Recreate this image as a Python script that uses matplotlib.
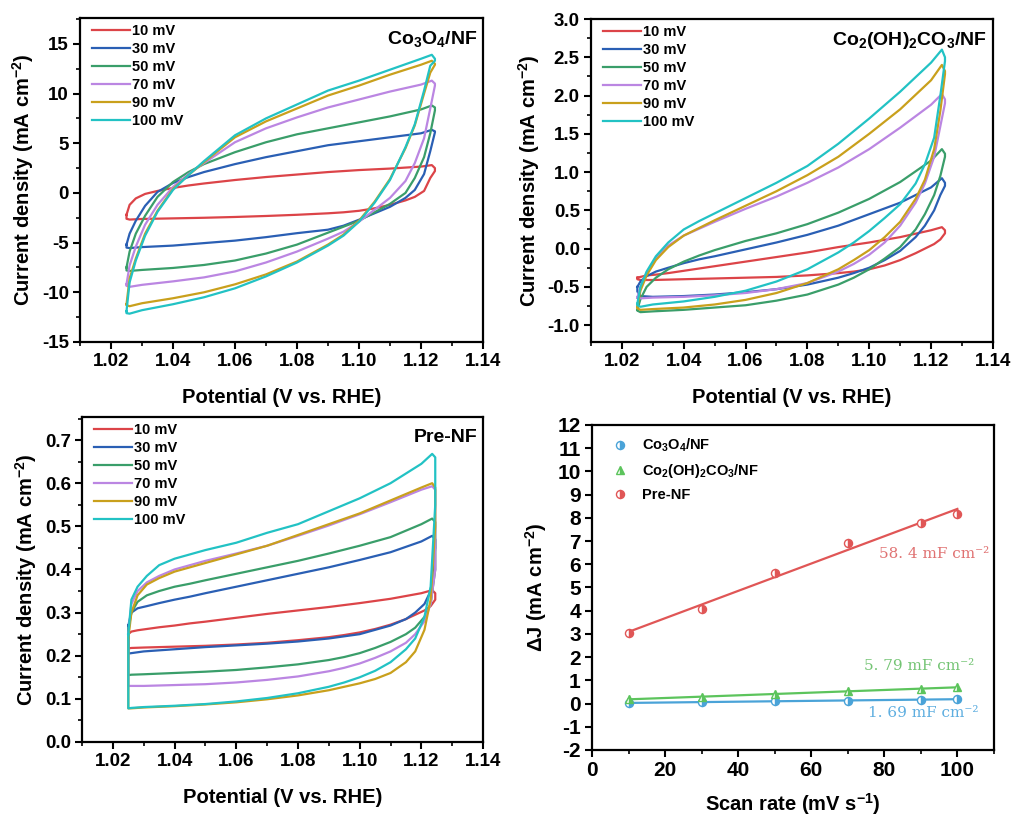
import numpy as np
import matplotlib.pyplot as plt
from matplotlib.ticker import MultipleLocator

plt.rcParams['font.family'] = ['Liberation Sans', 'DejaVu Sans']
plt.rcParams['font.weight'] = 'bold'
plt.rcParams['axes.labelweight'] = 'bold'
plt.rcParams['axes.unicode_minus'] = False
plt.rcParams['mathtext.fontset'] = 'custom'
plt.rcParams['mathtext.rm'] = 'Liberation Sans:bold'
plt.rcParams['mathtext.bf'] = 'Liberation Sans:bold'
plt.rcParams['mathtext.default'] = 'bf'

# scan rates (legend) and colours
rates = ['10 mV', '30 mV', '50 mV', '70 mV', '90 mV', '100 mV']
colors = ['#dc4448', '#2a5fb4', '#3a9e6a', '#bb86e2', '#c9a01c', '#22c2c4']

# potential grid: anodic branch (left -> right), cathodic branch (right -> left)
E_up = [1.025, 1.026, 1.028, 1.031, 1.035, 1.04, 1.045, 1.05, 1.06, 1.07,
        1.08, 1.09, 1.10, 1.11, 1.12, 1.1235, 1.1245]
E_down = [1.1245, 1.123, 1.121, 1.118, 1.115, 1.11, 1.105, 1.10, 1.095, 1.09,
          1.08, 1.07, 1.06, 1.05, 1.04, 1.03, 1.026, 1.025]

# Co3O4/NF, mA cm-2, rows = 10..100 mV
co3o4_up = [
    [-2.2, -1.2, -0.55, -0.1, 0.2, 0.5, 0.75, 0.95, 1.3, 1.6, 1.85, 2.1, 2.3, 2.45, 2.65, 2.8, 2.5],
    [-5.2, -4.1, -2.8, -1.3, 0.1, 1.0, 1.6, 2.1, 2.9, 3.6, 4.2, 4.8, 5.2, 5.6, 6.0, 6.35, 6.2],
    [-7.5, -5.9, -4.1, -2.3, -0.4, 1.1, 2.1, 2.9, 4.1, 5.1, 5.9, 6.5, 7.1, 7.7, 8.4, 8.8, 8.6],
    [-9.2, -7.3, -5.4, -3.2, -1.2, 0.6, 1.9, 3.0, 5.1, 6.5, 7.6, 8.6, 9.4, 10.2, 10.9, 11.3, 11.0],
    [-11.2, -8.6, -6.6, -4.1, -1.8, 0.4, 1.8, 3.1, 5.6, 7.2, 8.5, 9.8, 10.8, 11.9, 12.9, 13.3, 13.0],
    [-11.9, -9.0, -6.8, -4.3, -1.9, 0.3, 1.8, 3.2, 5.8, 7.5, 8.9, 10.3, 11.3, 12.4, 13.5, 13.9, 13.5],
]
co3o4_down = [
    [2.2, 1.5, 0.2, -0.4, -0.75, -1.2, -1.55, -1.8, -1.95, -2.05, -2.2, -2.32, -2.42, -2.5, -2.56, -2.62, -2.68, -2.6],
    [6.1, 4.2, 1.9, 0.3, -0.5, -1.4, -2.05, -2.7, -3.3, -3.7, -4.05, -4.45, -4.8, -5.05, -5.3, -5.45, -5.55, -5.5],
    [8.3, 6.0, 3.6, 1.5, 0.0, -1.1, -1.95, -2.8, -3.4, -4.0, -5.2, -6.1, -6.8, -7.25, -7.55, -7.75, -7.85, -7.8],
    [10.8, 8.5, 5.5, 3.0, 1.2, -0.5, -1.7, -2.9, -3.9, -4.6, -5.9, -7.0, -7.9, -8.5, -8.9, -9.25, -9.45, -9.35],
    [12.9, 12.1, 10.0, 6.8, 4.5, 1.4, -0.9, -2.8, -4.2, -5.2, -6.9, -8.2, -9.2, -10.0, -10.6, -11.1, -11.4, -11.3],
    [13.3, 12.8, 10.3, 6.9, 4.6, 1.3, -1.0, -2.9, -4.3, -5.3, -7.0, -8.4, -9.6, -10.5, -11.2, -11.8, -12.15, -12.1],
]

# Co2(OH)2CO3/NF
coc_up = [
    [-0.38, -0.37, -0.35, -0.34, -0.32, -0.29, -0.26, -0.23, -0.17, -0.11, -0.05, 0.02, 0.08, 0.15, 0.24, 0.28, 0.24],
    [-0.5, -0.43, -0.36, -0.3, -0.25, -0.19, -0.14, -0.1, -0.01, 0.08, 0.18, 0.3, 0.45, 0.6, 0.8, 0.92, 0.86],
    [-0.8, -0.66, -0.5, -0.38, -0.27, -0.17, -0.09, -0.02, 0.1, 0.2, 0.32, 0.47, 0.65, 0.87, 1.15, 1.3, 1.24],
    [-0.64, -0.5, -0.32, -0.12, 0.04, 0.17, 0.26, 0.35, 0.52, 0.68, 0.86, 1.06, 1.3, 1.58, 1.88, 2.02, 1.95],
    [-0.76, -0.55, -0.35, -0.15, 0.02, 0.17, 0.27, 0.37, 0.56, 0.75, 0.96, 1.2, 1.5, 1.82, 2.2, 2.4, 2.32],
    [-0.72, -0.5, -0.3, -0.1, 0.08, 0.25, 0.36, 0.46, 0.66, 0.86, 1.08, 1.37, 1.7, 2.05, 2.43, 2.6, 2.5],
]
coc_down = [
    [0.2, 0.12, 0.06, 0.0, -0.06, -0.15, -0.22, -0.27, -0.3, -0.32, -0.35, -0.37, -0.38, -0.39, -0.4, -0.41, -0.41, -0.4],
    [0.82, 0.7, 0.5, 0.3, 0.15, -0.03, -0.15, -0.25, -0.32, -0.38, -0.47, -0.53, -0.57, -0.6, -0.62, -0.63, -0.62, -0.56],
    [1.2, 0.95, 0.7, 0.45, 0.25, 0.02, -0.13, -0.27, -0.38, -0.47, -0.6, -0.68, -0.74, -0.77, -0.8, -0.82, -0.83, -0.81],
    [1.9, 1.6, 1.2, 0.85, 0.6, 0.3, 0.08, -0.08, -0.2, -0.3, -0.45, -0.53, -0.58, -0.61, -0.63, -0.64, -0.65, -0.63],
    [2.28, 1.8, 1.3, 0.9, 0.65, 0.35, 0.15, -0.02, -0.15, -0.27, -0.45, -0.58, -0.67, -0.73, -0.77, -0.79, -0.8, -0.78],
    [2.45, 2.0, 1.45, 1.1, 0.85, 0.58, 0.4, 0.23, 0.08, -0.05, -0.27, -0.43, -0.55, -0.63, -0.69, -0.73, -0.76, -0.74],
]

# Pre-NF
pre_up = [
    [0.25, 0.256, 0.259, 0.262, 0.266, 0.27, 0.275, 0.279, 0.288, 0.297, 0.305, 0.313, 0.322, 0.332, 0.345, 0.352, 0.345],
    [0.27, 0.3, 0.31, 0.315, 0.322, 0.33, 0.337, 0.345, 0.36, 0.375, 0.39, 0.405, 0.422, 0.44, 0.465, 0.478, 0.47],
    [0.26, 0.3, 0.325, 0.34, 0.35, 0.36, 0.367, 0.375, 0.39, 0.405, 0.42, 0.437, 0.455, 0.475, 0.505, 0.518, 0.51],
    [0.25, 0.32, 0.35, 0.37, 0.385, 0.4, 0.41, 0.42, 0.437, 0.455, 0.478, 0.502, 0.528, 0.556, 0.585, 0.593, 0.585],
    [0.24, 0.3, 0.34, 0.365, 0.38, 0.395, 0.405, 0.415, 0.435, 0.455, 0.48, 0.505, 0.53, 0.56, 0.59, 0.6, 0.59],
    [0.25, 0.33, 0.36, 0.385, 0.41, 0.425, 0.435, 0.445, 0.462, 0.485, 0.505, 0.535, 0.565, 0.6, 0.645, 0.668, 0.66],
]
pre_down = [
    [0.33, 0.315, 0.305, 0.295, 0.285, 0.272, 0.262, 0.254, 0.248, 0.243, 0.236, 0.23, 0.226, 0.223, 0.221, 0.219, 0.218, 0.217],
    [0.45, 0.35, 0.32, 0.3, 0.285, 0.27, 0.26, 0.25, 0.245, 0.24, 0.233, 0.228, 0.224, 0.22, 0.215, 0.21, 0.206, 0.205],
    [0.4, 0.32, 0.29, 0.265, 0.25, 0.232, 0.218, 0.206, 0.197, 0.19, 0.18, 0.173, 0.167, 0.163, 0.16, 0.157, 0.156, 0.155],
    [0.4, 0.32, 0.28, 0.25, 0.23, 0.21, 0.195, 0.182, 0.172, 0.164, 0.152, 0.144, 0.138, 0.134, 0.132, 0.13, 0.13, 0.13],
    [0.5, 0.33, 0.26, 0.21, 0.185, 0.16, 0.146, 0.136, 0.128, 0.12, 0.108, 0.099, 0.092, 0.087, 0.083, 0.08, 0.078, 0.078],
    [0.55, 0.36, 0.29, 0.24, 0.215, 0.185, 0.165, 0.15, 0.138, 0.128, 0.113, 0.102, 0.094, 0.088, 0.084, 0.081, 0.079, 0.078],
]

# double-layer fit panel
scan_rate = [10, 30, 50, 70, 90, 100]
dJ_co3o4 = [0.03, 0.06, 0.10, 0.13, 0.17, 0.19]
dJ_coc = [0.18, 0.30, 0.41, 0.53, 0.64, 0.70]
dJ_pre = [3.02, 4.09, 5.64, 6.90, 7.78, 8.16]
cdl_labels = ['1. 69 mF cm⁻²', '5. 79 mF cm⁻²', '58. 4 mF cm⁻²']


def style_axis(ax, labelsize=13.5):
    for s in ax.spines.values():
        s.set_linewidth(1.6)
    ax.tick_params(which='major', direction='out', length=5, width=1.5,
                   labelsize=labelsize, pad=3)
    ax.tick_params(which='minor', direction='out', length=3, width=1.2)


def cv_panel(ax, up, down, name, ylim, ymaj, ymin_):
    for i in range(6):
        x = list(E_up) + list(E_down)
        y = list(up[i]) + list(down[i])
        x.append(E_up[0])
        y.append(up[i][0])
        ax.plot(x, y, color=colors[i], lw=1.6, label=rates[i],
                solid_joinstyle='round')
    ax.set_xlim(1.01, 1.14)
    ax.set_ylim(*ylim)
    ax.xaxis.set_major_locator(MultipleLocator(0.02))
    ax.xaxis.set_minor_locator(MultipleLocator(0.01))
    ax.yaxis.set_major_locator(MultipleLocator(ymaj))
    ax.yaxis.set_minor_locator(MultipleLocator(ymin_))
    ax.set_xlabel('Potential (V vs. RHE)', fontsize=14.5, labelpad=13)
    ax.set_ylabel('Current density (mA cm$^{-2}$)', fontsize=14.5, labelpad=4)
    style_axis(ax)
    ax.legend(loc='upper left', bbox_to_anchor=(0.015, 1.0), frameon=False,
              fontsize=10.5, handlelength=2.6, handletextpad=0.15,
              labelspacing=0.28, borderaxespad=0.2, borderpad=0.2)
    ax.text(0.985, 0.965, name, transform=ax.transAxes, ha='right', va='top',
            fontsize=14, fontweight='bold')


fig = plt.figure(figsize=(10.14, 8.16), dpi=100)
ax1 = fig.add_axes([0.0789, 0.5809, 0.3974, 0.397])
ax2 = fig.add_axes([0.5828, 0.5809, 0.3964, 0.3958])
ax3 = fig.add_axes([0.0809, 0.0907, 0.3955, 0.398])
ax4 = fig.add_axes([0.5838, 0.0809, 0.3964, 0.3983])

cv_panel(ax1, co3o4_up, co3o4_down, 'Co$_3$O$_4$/NF', (-15, 17.6), 5, 2.5)
cv_panel(ax2, coc_up, coc_down, 'Co$_2$(OH)$_2$CO$_3$/NF', (-1.22, 3.0), 0.5, 0.25)
cv_panel(ax3, pre_up, pre_down, 'Pre-NF', (0, 0.753), 0.1, 0.05)

# delta J vs scan rate
series = [
    (dJ_co3o4, '#4aa3d8', 'o', 'Co$_3$O$_4$/NF'),
    (dJ_coc, '#5cc45c', '^', 'Co$_2$(OH)$_2$CO$_3$/NF'),
    (dJ_pre, '#e05656', 'o', 'Pre-NF'),
]
sr = np.array(scan_rate, dtype=float)
for vals, c, m, lab in series:
    v = np.array(vals)
    k, b = np.polyfit(sr, v, 1)
    xs = np.array([sr.min(), sr.max()])
    ax4.plot(xs, k * xs + b, color=c, lw=1.6, zorder=2)
    ax4.plot(sr, v, ls='none', marker=m, ms=5.8, color=c, mec=c,
             fillstyle='right', markerfacecoloralt='white', mew=1.0,
             label=lab, zorder=3)

ax4.text(78.5, 6.45, cdl_labels[2], color='#e07272', fontsize=11,
         family=['DejaVu Serif'], fontweight='normal', va='center')
ax4.text(74.5, 1.6, cdl_labels[1], color='#74c474', fontsize=11,
         family=['DejaVu Serif'], fontweight='normal', va='center')
ax4.text(75.5, -0.42, cdl_labels[0], color='#5eaee0', fontsize=11,
         family=['DejaVu Serif'], fontweight='normal', va='center')

ax4.set_xlim(0, 110)
ax4.set_ylim(-2, 12)
ax4.xaxis.set_major_locator(MultipleLocator(20))
ax4.xaxis.set_minor_locator(MultipleLocator(10))
ax4.yaxis.set_major_locator(MultipleLocator(1))
ax4.set_xlabel('Scan rate (mV s$^{-1}$)', fontsize=14.5, labelpad=8)
ax4.set_ylabel('ΔJ (mA cm$^{-2}$)', fontsize=14.5, labelpad=6)
style_axis(ax4, labelsize=15)
ax4.legend(loc='upper left', bbox_to_anchor=(0.03, 0.99), frameon=False,
           fontsize=10.5, handlelength=1.0, handletextpad=1.0,
           labelspacing=0.55, numpoints=1, borderaxespad=0.2)

fig.savefig('out.png', dpi=100)
